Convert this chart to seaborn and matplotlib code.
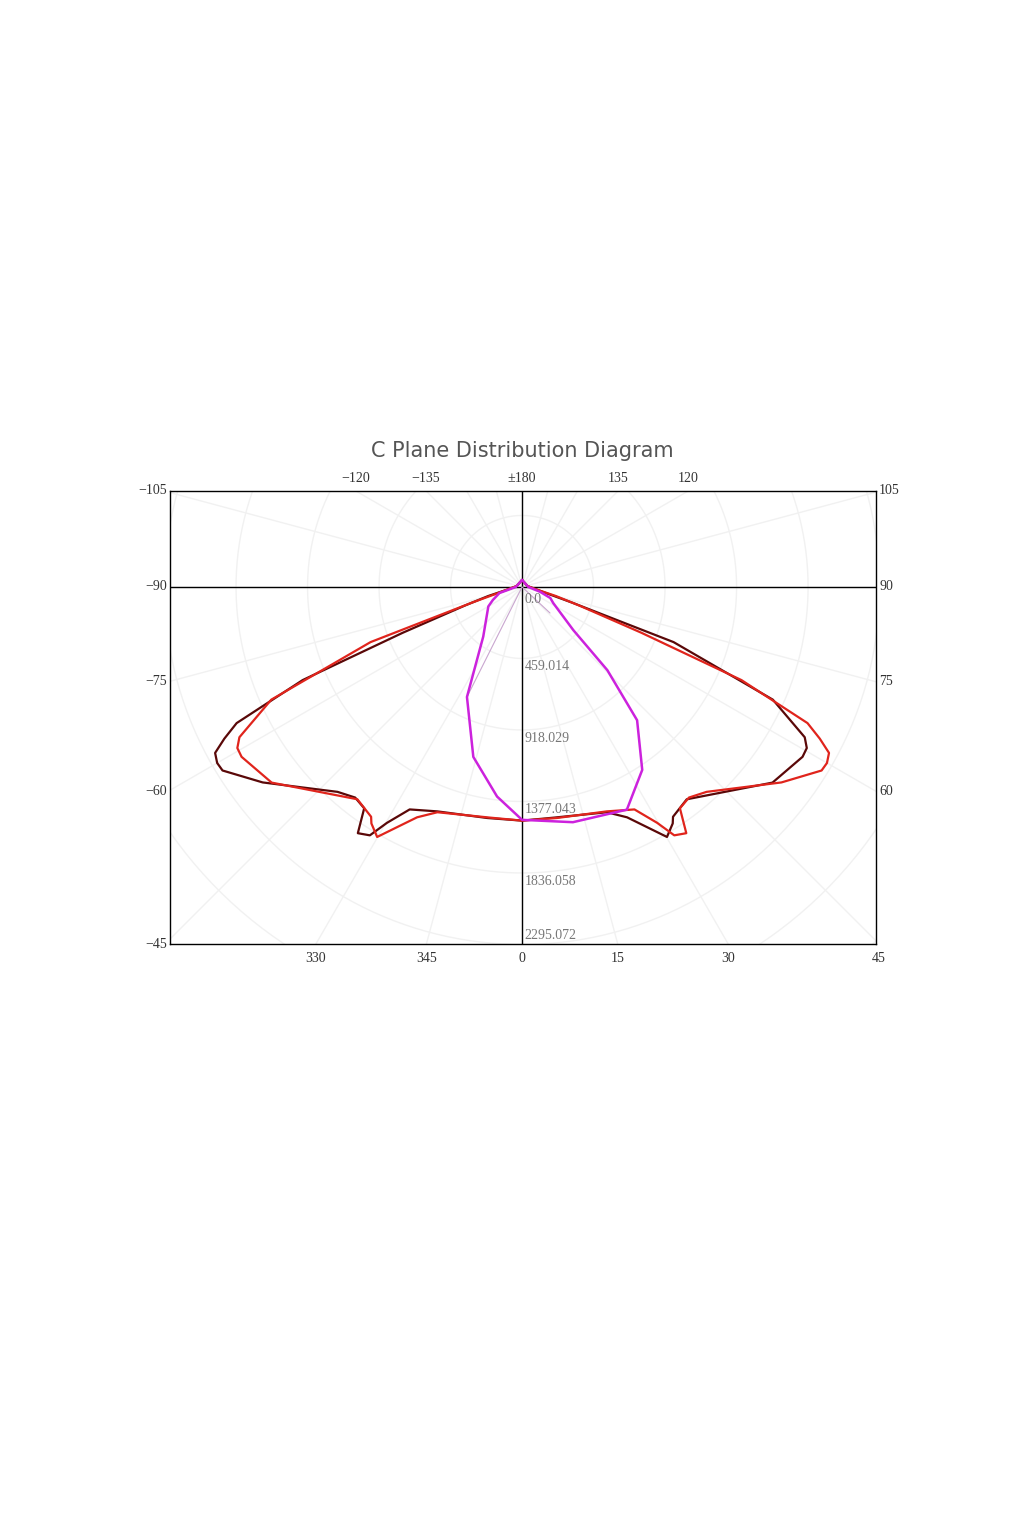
import numpy as np
import pandas as pd
import matplotlib
matplotlib.use("Agg")
import matplotlib.pyplot as plt
import seaborn as sns

sns.set_theme(style="white")
plt.rcParams['font.family'] = ['DejaVu Sans']

# gamma angle (deg from nadir, + to the right) and intensity (cd)
dark_gamma = [-180, -100, -90, -80, -75, -72, -69, -67, -64.5, -63, -61.6, -60, -58.5, -53, -42, -38.4, -35.5,
              -33.7, -31.5, -29.8, -26.8, -20.7, -8.6, 0, 8, 20.6, 24.5, 30.1, 32.5, 33.3, 37.8,
              52, 58.8, 60.5, 62, 65.8, 70, 72.6, 76, 80, 90, 100, 180]
dark_cd = [45, 35, 50, 95, 225, 385, 820, 1530, 2030, 2145, 2240, 2260, 2255, 2085, 1770, 1725, 1745,
           1900, 1870, 1745, 1600, 1540, 1500, 1500, 1495, 1545, 1625, 1855, 1800, 1765, 1725,
           2040, 2105, 2100, 2055, 1765, 1035, 340, 150, 95, 50, 35, 45]

# second plane is the mirror image of the first
red_gamma = [-g for g in dark_gamma]
red_cd = list(dark_cd)

mag_gamma = [-180, -90, -75, -66, -60, -38, -26.6, -16, -6.8, 0, 12.2, 25.2, 33.3, 40.8,
             45.7, 49.9, 62.7, 68.6, 75, 90, 180]
mag_cd = [45, 40, 150, 205, 250, 405, 790, 1135, 1355, 1495, 1545, 1580, 1405, 1130,
          765, 430, 225, 195, 120, 40, 45]

thin_gamma = [-26.6, -90, 47]
thin_cd = [790, 0, 245]

ring_step = 459.014
ring_labels = ["0.0", "459.014", "918.029", "1377.043", "1836.058", "2295.072"]

X0, X1, Y0, Y1 = -2260, 2272, -2292, 616


def to_xy(g, cd, name):
    g = np.radians(np.array(g, dtype=float))
    cd = np.array(cd, dtype=float)
    return pd.DataFrame({"x": cd * np.sin(g), "y": -cd * np.cos(g), "plane": name,
                         "order": np.arange(len(cd))})


fig = plt.figure(figsize=(10.24, 15.36), dpi=100)
ax = fig.add_axes([170 / 1024, 1 - 944 / 1536, 706 / 1024, 453 / 1536])
ax.set_xlim(X0, X1)
ax.set_ylim(Y0, Y1)

# polar grid
t = np.linspace(0, 2 * np.pi, 400)
for k in range(1, 9):
    ax.plot(k * ring_step * np.cos(t), k * ring_step * np.sin(t), color="#f1f1f1", lw=1, zorder=0)
for a in range(0, 360, 15):
    r = np.radians(a)
    ax.plot([0, 5000 * np.cos(r)], [0, 5000 * np.sin(r)], color="#f1f1f1", lw=1, zorder=0)
ax.axhline(0, color="black", lw=1, zorder=1)
ax.axvline(0, color="black", lw=1, zorder=1)

curves = [
    (to_xy(thin_gamma, thin_cd, "thin"), "#c9a6cf", 0.8),
    (to_xy(dark_gamma, dark_cd, "dark"), "#5a0808", 1.6),
    (to_xy(red_gamma, red_cd, "red"), "#e0241c", 1.6),
    (to_xy(mag_gamma, mag_cd, "mag"), "#cc22dd", 1.8),
]
for df, col, lw in curves:
    sns.lineplot(data=df, x="x", y="y", sort=False, estimator=None, color=col, lw=lw, ax=ax, zorder=3)

ax.set_xticks([])
ax.set_yticks([])
ax.set_xlabel("")
ax.set_ylabel("")
for s in ax.spines.values():
    s.set_color("black")
    s.set_linewidth(1)

serif = dict(family=["Liberation Serif", "DejaVu Serif"], fontsize=10, color="#333333")

# side labels: where rays meet the left/right edges
for g in [60, 75, 90]:
    y = X1 / np.tan(np.radians(g))
    ax.text(X1 + 20, -y, str(g), ha="left", va="center", **serif)
    ax.text(X0 - 20, -y, "\u2212" + str(g), ha="right", va="center", **serif)
ax.text(X1 + 20, Y1, "105", ha="left", va="center", **serif)
ax.text(X0 - 20, Y1, "\u2212105", ha="right", va="center", **serif)
ax.text(X0 - 20, Y0, "\u221245", ha="right", va="center", **serif)

# bottom labels
for g, lab in [(-30, "330"), (-15, "345"), (0, "0"), (15, "15"), (30, "30"), (45, "45")]:
    x = -Y0 * np.tan(np.radians(g))
    ax.text(x, Y0 - 50, lab, ha="center", va="top", **serif)

# top labels
for g, lab in [(-60, "\u2212120"), (-45, "\u2212135"), (0, "\u00b1180"), (45, "135"), (60, "120")]:
    x = Y1 * np.tan(np.radians(g))
    ax.text(x, Y1 + 40, lab, ha="center", va="bottom", **serif)

# radial labels
for k, lab in enumerate(ring_labels):
    if k == len(ring_labels) - 1:
        yy, va = Y0 + 15, "bottom"
    else:
        yy, va = -k * ring_step - (40 if k == 0 else 10), "top"
    ax.text(15, yy, lab, ha="left", va=va,
            family=["Liberation Serif", "DejaVu Serif"], fontsize=10, color="#777777", zorder=4)

fig.text(522 / 1024, 1 - 451 / 1536, "C Plane Distribution Diagram", ha="center", va="center",
         fontsize=15, color="#555555")

fig.savefig("out.png", dpi=100)
